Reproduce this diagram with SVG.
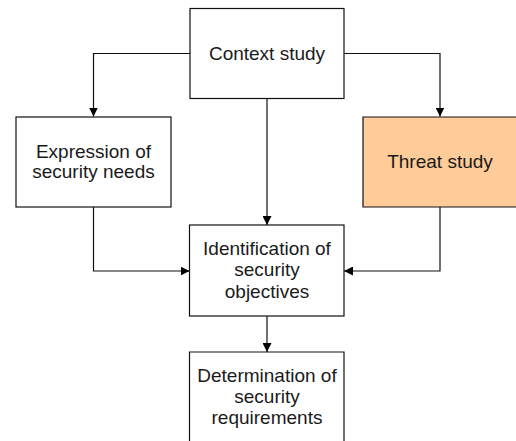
<svg xmlns="http://www.w3.org/2000/svg" width="516" height="441" viewBox="0 0 516 441">
  <style>
    .box { fill: #ffffff; stroke: #111111; stroke-width: 1.2; }
    .threat { fill: #ffcc99; stroke: #111111; stroke-width: 1.2; }
    .lbl { font-family: "Liberation Sans", Arial, sans-serif; font-size: 19px; fill: #1a1a1a; text-anchor: middle; }
    .link { fill: none; stroke: #111111; stroke-width: 1.2; marker-end: url(#arrow); }
  </style>
  <defs>
    <marker id="arrow" viewBox="0 0 10 10" refX="10" refY="5" markerWidth="9" markerHeight="9" markerUnits="userSpaceOnUse" orient="auto">
      <path d="M0,0 L10,5 L0,10 Z" fill="#000000"/>
    </marker>
  </defs>
  <rect width="516" height="441" fill="#ffffff"/>

  <g id="connectors">
    <path class="link" d="M190,53.5 H93.5 V116.5"/>
    <path class="link" d="M344,53.5 H440 V116.5"/>
    <path class="link" d="M267,98.5 V225"/>
    <path class="link" d="M93.5,207 V271 H189.5"/>
    <path class="link" d="M440,207 V271 H344"/>
    <path class="link" d="M267,316 V352"/>
  </g>

  <g id="context-study">
    <rect class="box" x="190" y="8.5" width="154" height="90"/>
    <text class="lbl" x="267" y="60">Context study</text>
  </g>

  <g id="expression-of-needs">
    <rect class="box" x="16" y="117" width="155" height="90"/>
    <text class="lbl" x="93.5" y="157.5">Expression of</text>
    <text class="lbl" x="93.5" y="178">security needs</text>
  </g>

  <g id="threat-study">
    <path class="threat" d="M517,117 H363 V207 H517"/>
    <text class="lbl" x="440" y="168">Threat study</text>
  </g>

  <g id="identification-of-objectives">
    <rect class="box" x="189.5" y="225" width="154.5" height="91"/>
    <text class="lbl" x="267" y="255">Identification of</text>
    <text class="lbl" x="267" y="276">security</text>
    <text class="lbl" x="267" y="297.5">objectives</text>
  </g>

  <g id="determination-of-requirements">
    <path class="box" d="M189.5,445 V352 H344 V445"/>
    <text class="lbl" x="267" y="381.5">Determination of</text>
    <text class="lbl" x="267" y="402.5">security</text>
    <text class="lbl" x="267" y="423.5">requirements</text>
  </g>
</svg>
